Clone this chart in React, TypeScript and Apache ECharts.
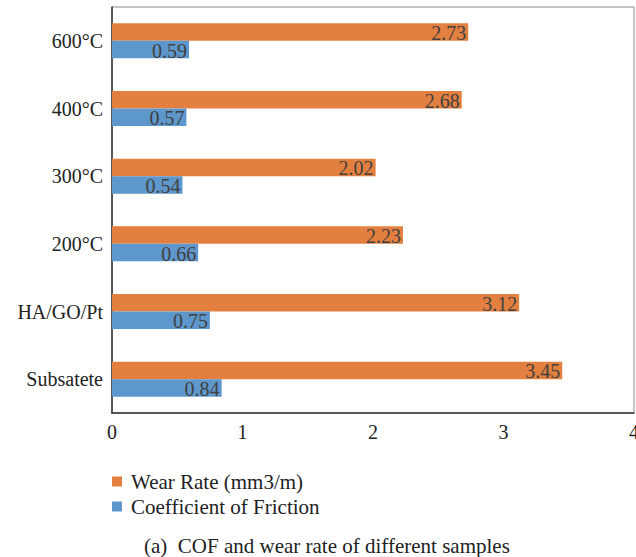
import React, { useEffect, useRef } from "react";
import * as echarts from "echarts";

const categories = ["Subsatete", "HA/GO/Pt", "200°C", "300°C", "400°C", "600°C"];
const wearRate = [3.45, 3.12, 2.23, 2.02, 2.68, 2.73];
const cof = [0.84, 0.75, 0.66, 0.54, 0.57, 0.59];
const xTicks = [0, 1, 2, 3, 4];
const seriesNames = ["Wear Rate (mm3/m)", "Coefficient of Friction"];
const caption = "(a)  COF and wear rate of different samples";

const FONT = "'Liberation Serif', 'DejaVu Serif', serif";

export default function App() {
  const ref = useRef<HTMLDivElement>(null);
  useEffect(() => {
    if (!ref.current) return;
    const chart = echarts.init(ref.current, null, { renderer: "svg" });
    const labelStyle = {
      show: true,
      position: "insideRight" as const,
      distance: 2,
      color: "#404040",
      fontFamily: FONT,
      fontSize: 20,
      offset: [0, 1],
    };
    chart.setOption({
      animation: false,
      textStyle: { fontFamily: FONT },
      grid: {
        left: 112,
        right: 2,
        top: 7,
        bottom: 144,
        outerBoundsMode: "none",
        containLabel: false,
        show: true,
        borderColor: "#8a8a8a",
        borderWidth: 1,
      },
      legend: {
        orient: "vertical",
        left: 112,
        top: 471,
        padding: 0,
        itemWidth: 10,
        itemHeight: 10,
        itemGap: 4,
        icon: "rect",
        data: seriesNames,
        textStyle: {
          fontFamily: FONT,
          fontSize: 21,
          color: "#222",
          padding: [0, 0, 0, 4],
        },
      },
      graphic: [
        {
          type: "text",
          left: 144,
          top: 535,
          style: { text: caption, fontFamily: FONT, fontSize: 21, fill: "#222" },
        },
      ],
      xAxis: {
        type: "value",
        min: xTicks[0],
        max: xTicks[xTicks.length - 1],
        interval: 1,
        axisLine: { show: true, lineStyle: { color: "#333", width: 1.5 } },
        axisTick: { show: false },
        splitLine: { show: false },
        axisLabel: {
          fontFamily: FONT,
          fontSize: 20,
          color: "#222",
          margin: 9,
          showMaxLabel: true,
        },
      },
      yAxis: {
        type: "category",
        data: categories,
        axisLine: { show: true, lineStyle: { color: "#333", width: 1.5 } },
        axisTick: { show: false },
        axisLabel: { fontFamily: FONT, fontSize: 20, color: "#222", margin: 9 },
      },
      series: [
        {
          name: seriesNames[0],
          type: "bar",
          data: wearRate,
          barWidth: 17.5,
          barGap: "0%",
          itemStyle: { color: "#E4803F" },
          label: { ...labelStyle },
        },
        {
          name: seriesNames[1],
          type: "bar",
          data: cof,
          barWidth: 17.5,
          barGap: "0%",
          itemStyle: { color: "#5E97CB" },
          label: { ...labelStyle },
        },
      ],
    });
    return () => chart.dispose();
  }, []);
  return (
    <div
      ref={ref}
      style={{ position: "fixed", left: 0, top: 0, width: 636, height: 557, background: "#fff" }}
    />
  );
}
